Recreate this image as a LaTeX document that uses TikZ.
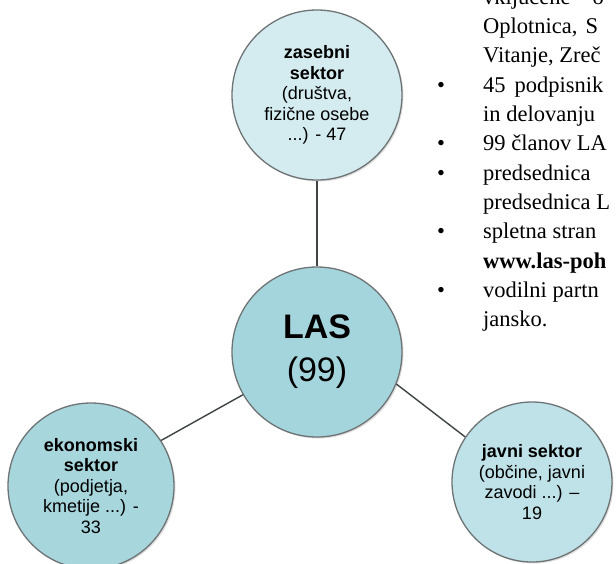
\documentclass[tikz,border=0pt]{standalone}
\usepackage{fontspec}
\setmainfont{Liberation Serif}
\setsansfont{Liberation Sans}
\usetikzlibrary{shadows}
\definecolor{ringgray}{HTML}{6E7475}
\definecolor{linegray}{HTML}{3E4445}
\definecolor{toplight}{HTML}{D4ECF0}
\definecolor{lasfill}{HTML}{A5D5DC}
\definecolor{ekofill}{HTML}{A7D6DD}
\definecolor{javfill}{HTML}{BEE2E7}
\tikzset{
  sector/.style={circle, draw=ringgray, line width=1.3pt, inner sep=0pt,
    align=center, text=black, font=\sffamily\fontsize{18}{20.5}\selectfont,
    drop shadow={opacity=0.25, shadow xshift=1.5pt, shadow yshift=-1.5pt}},
  link/.style={draw=linegray, line width=1.4pt},
  para/.style={anchor=base west, inner sep=0pt, font=\fontsize{22.5}{27}\selectfont},
  bul/.style={anchor=base, inner sep=0pt, font=\fontsize{22.5}{27}\selectfont}
}
\begin{document}
\begin{tikzpicture}[x=1pt,y=-1pt]
\clip (0,0) rectangle (616,563);
\fill[white] (0,0) rectangle (616,563);

% circles
\node[sector, fill=toplight, minimum size=170pt] (zas) at (317,95)
  {\textbf{zasebni}\\\textbf{sektor}\\(društva,\\fizične osebe\\...) - 47};
\node[sector, fill=lasfill, minimum size=170pt,
  font=\sffamily\fontsize{34}{43}\selectfont] (las) at (317,352)
  {\textbf{LAS}\\(99)};
\node[sector, fill=ekofill, minimum size=166pt] (eko) at (91,486)
  {\textbf{ekonomski}\\\textbf{sektor}\\(podjetja,\\kmetije ...) -\\33};
\node[sector, fill=javfill, minimum size=160pt] (jav) at (532,482)
  {\textbf{javni sektor}\\(občine, javni\\zavodi ...) –\\19};

% connectors
\draw[link] (zas) -- (las);
\draw[link] (las.210) -- (eko.33);
\draw[link] (las.-22) -- (jav.146);

% right-hand text
\node[para] (t0) at (483,4) {vključene\hspace{22pt}o};
\node[para] (t1) at (483,33) {Oplotnica,\hspace{8pt}S};
\node[para] (t2) at (483,62) {Vitanje, Zreč};
\node[bul] (b3) at (441,92) {•};
\node[para] (t3) at (483,92) {45\hspace{9pt}podpisnik};
\node[para] (t4) at (483,121) {in delovanju};
\node[bul] (b5) at (441,150) {•};
\node[para] (t5) at (483,150) {99 članov LA};
\node[bul] (b6) at (441,180) {•};
\node[para] (t6) at (483,180) {predsednica};
\node[para] (t7) at (483,209) {predsednica L};
\node[bul] (b8) at (441,238) {•};
\node[para] (t8) at (483,238) {spletna stran};
\node[para] (t9) at (483,268) {\textbf{www.las-poh}};
\node[bul] (b10) at (441,297) {•};
\node[para] (t10) at (483,297) {vodilni partn};
\node[para] (t11) at (483,326) {jansko.};
\end{tikzpicture}
\end{document}
